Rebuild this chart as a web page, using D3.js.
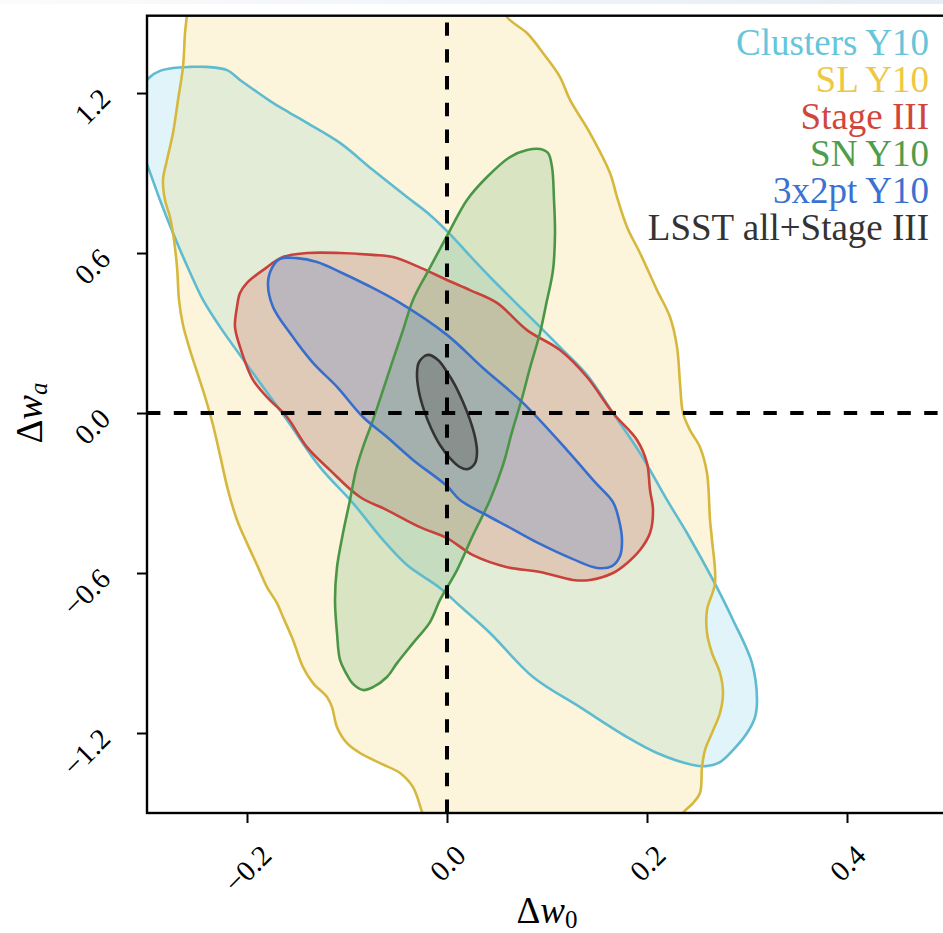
<!DOCTYPE html>
<html>
<head>
<meta charset="utf-8">
<script src="https://cdn.jsdelivr.net/npm/d3@7"></script>
<style>
  html, body { margin: 0; padding: 0; background: #ffffff; }
  svg { display: block; }
</style>
</head>
<body>
<svg id="chart" width="943" height="933"></svg>
<script>
// 68% confidence contours in the (Δw0, Δwa) plane, as [Δw0, Δwa] vertices.
const clustersY10 = [
  [-0.312, 1.174], [-0.297, 1.260], [-0.287, 1.283], [-0.274, 1.294], [-0.257, 1.298],
  [-0.240, 1.298], [-0.220, 1.286], [-0.207, 1.249], [-0.190, 1.204], [-0.174, 1.163],
  [-0.157, 1.125], [-0.140, 1.088], [-0.107, 1.013], [-0.074, 0.911], [-0.040, 0.810],
  [-0.017, 0.743], [0.003, 0.671], [0.023, 0.589], [0.043, 0.510], [0.068, 0.416],
  [0.093, 0.323], [0.116, 0.236], [0.140, 0.143], [0.166, 0.000], [0.193, -0.150],
  [0.220, -0.326], [0.240, -0.450], [0.266, -0.626], [0.286, -0.776], [0.305, -0.938],
  [0.310, -1.076], [0.308, -1.140], [0.300, -1.200], [0.286, -1.264], [0.273, -1.309],
  [0.260, -1.324], [0.246, -1.320], [0.210, -1.275], [0.180, -1.215], [0.133, -1.103],
  [0.086, -0.990], [0.043, -0.825], [0.013, -0.724], [-0.007, -0.656], [-0.040, -0.570],
  [-0.064, -0.476], [-0.094, -0.338], [-0.127, -0.203], [-0.160, -0.026], [-0.194, 0.150],
  [-0.227, 0.323], [-0.244, 0.424], [-0.259, 0.544], [-0.274, 0.675], [-0.287, 0.799],
  [-0.299, 0.923], [-0.309, 1.024]
];

const slY10 = [
  [-0.257, 1.586], [-0.097, 1.661], [0.048, 1.586],
  [0.060, 1.485], [0.080, 1.425], [0.096, 1.350], [0.113, 1.260], [0.123, 1.174],
  [0.143, 1.050], [0.163, 0.900], [0.170, 0.810], [0.180, 0.698], [0.193, 0.600],
  [0.210, 0.461], [0.223, 0.360], [0.230, 0.248], [0.233, 0.113], [0.236, 0.000],
  [0.243, -0.064], [0.253, -0.128], [0.260, -0.225], [0.263, -0.401], [0.265, -0.476],
  [0.268, -0.638], [0.260, -0.739], [0.260, -0.825], [0.265, -0.900], [0.273, -0.975],
  [0.276, -1.050], [0.273, -1.125], [0.265, -1.200], [0.258, -1.264], [0.255, -1.328],
  [0.253, -1.425], [0.246, -1.463], [0.236, -1.500], [0.228, -1.564],
  [0.103, -1.676], [-0.017, -1.583],
  [-0.025, -1.496], [-0.034, -1.403], [-0.047, -1.350], [-0.067, -1.313], [-0.087, -1.275],
  [-0.100, -1.238], [-0.110, -1.178], [-0.115, -1.103], [-0.120, -1.065], [-0.134, -1.013],
  [-0.144, -0.953], [-0.154, -0.851], [-0.164, -0.765], [-0.170, -0.713], [-0.180, -0.653],
  [-0.189, -0.578], [-0.200, -0.488], [-0.210, -0.401], [-0.219, -0.289], [-0.227, -0.158],
  [-0.234, -0.045], [-0.241, 0.049], [-0.249, 0.143], [-0.257, 0.236], [-0.264, 0.330],
  [-0.268, 0.424], [-0.270, 0.548], [-0.274, 0.675], [-0.277, 0.735], [-0.282, 0.799],
  [-0.284, 0.874], [-0.280, 0.949], [-0.274, 1.050], [-0.269, 1.174], [-0.264, 1.298],
  [-0.262, 1.425], [-0.260, 1.493]
];

const stageIII = [
  [-0.207, 0.450], [-0.200, 0.488], [-0.184, 0.536], [-0.164, 0.585], [-0.140, 0.600],
  [-0.107, 0.600], [-0.074, 0.593], [-0.054, 0.585], [-0.030, 0.551], [0.000, 0.499],
  [0.023, 0.461], [0.050, 0.413], [0.080, 0.311], [0.113, 0.236], [0.140, 0.135],
  [0.166, 0.000], [0.190, -0.101], [0.200, -0.188], [0.203, -0.289], [0.206, -0.364],
  [0.203, -0.450], [0.193, -0.514], [0.180, -0.563], [0.166, -0.600], [0.143, -0.626],
  [0.126, -0.626], [0.093, -0.596], [0.060, -0.578], [0.026, -0.533], [0.000, -0.469],
  [-0.027, -0.428], [-0.060, -0.364], [-0.087, -0.315], [-0.117, -0.214], [-0.140, -0.128],
  [-0.160, -0.015], [-0.180, 0.060], [-0.194, 0.124], [-0.207, 0.248], [-0.212, 0.323],
  [-0.210, 0.398]
];

const snY10 = [
  [0.063, 0.960], [0.080, 0.986], [0.093, 0.990], [0.101, 0.975], [0.105, 0.923],
  [0.107, 0.799], [0.108, 0.675], [0.106, 0.536], [0.099, 0.405], [0.093, 0.300],
  [0.083, 0.169], [0.075, 0.056], [0.065, -0.071], [0.056, -0.195], [0.043, -0.326],
  [0.026, -0.458], [0.010, -0.589], [-0.007, -0.701], [-0.017, -0.784], [-0.034, -0.863],
  [-0.050, -0.938], [-0.060, -0.990], [-0.074, -1.028], [-0.084, -1.039], [-0.094, -1.016],
  [-0.101, -0.975], [-0.107, -0.926], [-0.110, -0.825], [-0.112, -0.701], [-0.110, -0.578],
  [-0.104, -0.450], [-0.097, -0.326], [-0.091, -0.214], [-0.084, -0.128], [-0.074, -0.026],
  [-0.064, 0.086], [-0.054, 0.199], [-0.044, 0.311], [-0.034, 0.424], [-0.020, 0.525],
  [0.000, 0.664], [0.020, 0.799], [0.040, 0.885]
];

const threeByTwoPtY10 = [
  [-0.179, 0.488], [-0.175, 0.544], [-0.167, 0.578], [-0.150, 0.581], [-0.130, 0.566],
  [-0.107, 0.529], [-0.080, 0.480], [-0.047, 0.413], [0.000, 0.293], [0.036, 0.169],
  [0.076, 0.038], [0.120, -0.139], [0.148, -0.259], [0.166, -0.334], [0.172, -0.401],
  [0.175, -0.476], [0.173, -0.536], [0.165, -0.574], [0.150, -0.581], [0.126, -0.548],
  [0.093, -0.491], [0.060, -0.424], [0.043, -0.390], [0.013, -0.326], [0.000, -0.274],
  [-0.034, -0.176], [-0.060, -0.090], [-0.084, -0.015], [-0.110, 0.098], [-0.134, 0.188],
  [-0.157, 0.300], [-0.174, 0.398]
];

const lsstAllStageIII = [
  [-0.019, 0.218], [-0.009, 0.199], [0.000, 0.154], [0.008, 0.105], [0.016, 0.041],
  [0.023, -0.026], [0.028, -0.090], [0.030, -0.146], [0.028, -0.188], [0.021, -0.210],
  [0.013, -0.203], [0.003, -0.169], [-0.007, -0.120], [-0.016, -0.056], [-0.023, 0.011],
  [-0.028, 0.079], [-0.030, 0.143], [-0.028, 0.191]
];

const seriesLabels = ["Clusters Y10", "SL Y10", "Stage III", "SN Y10", "3x2pt Y10", "LSST all+Stage III"];
const xTickValues = [-0.2, 0.0, 0.2, 0.4];
const yTickValues = [-1.2, -0.6, 0.0, 0.6, 1.2];

(function () {
  // Appearance of each contour, in drawing order.
  const styles = [
    { data: clustersY10,     stroke: "#5fbbcf", fill: "rgb(100,200,225)", alpha: 0.2,  text: "#66c5da" },
    { data: slY10,           stroke: "#d6b83e", fill: "rgb(240,205,80)",  alpha: 0.2,  text: "#edc843" },
    { data: stageIII,        stroke: "#c8413a", fill: "rgb(212,71,60)",   alpha: 0.2,  text: "#d0463d" },
    { data: snY10,           stroke: "#4b9646", fill: "rgb(82,160,90)",   alpha: 0.2,  text: "#4f9c4a" },
    { data: threeByTwoPtY10, stroke: "#376ecd", fill: "rgb(44,108,204)",  alpha: 0.2,  text: "#3a72d2" },
    { data: lsstAllStageIII, stroke: "#333333", fill: "rgb(51,51,51)",    alpha: 0.25, text: "#333333" }
  ];

  const W = 943;
  const pL = 147, pR = 947, pT = 15.7, pB = 813;
  const serif = "'Liberation Serif', 'DejaVu Serif', serif";

  const x = d3.scaleLinear().domain([-0.3, 0.5]).range([pL, pR]);
  const y = d3.scaleLinear().domain([-1.5, 1.49]).range([pB, pT]);

  const svg = d3.select("#chart");

  // faint band along the top edge of the page
  const defs = svg.append("defs");
  const grad = defs.append("linearGradient").attr("id", "topband")
    .attr("x1", 0).attr("x2", 1).attr("y1", 0).attr("y2", 0);
  grad.append("stop").attr("offset", 0).attr("stop-color", "#fafbfc");
  grad.append("stop").attr("offset", 1).attr("stop-color", "#e7edf5");
  svg.append("rect").attr("x", 0).attr("y", 0).attr("width", W).attr("height", 4)
    .attr("fill", "url(#topband)");

  defs.append("clipPath").attr("id", "plotclip")
    .append("rect").attr("x", pL).attr("y", pT).attr("width", pR - pL).attr("height", pB - pT);

  const plot = svg.append("g").attr("clip-path", "url(#plotclip)");

  const contour = d3.line()
    .x(d => x(d[0]))
    .y(d => y(d[1]))
    .curve(d3.curveCatmullRomClosed.alpha(0.5));

  // translucent fills first, outlines on top
  styles.forEach(s => {
    plot.append("path")
      .attr("d", contour(s.data))
      .attr("fill", s.fill)
      .attr("fill-opacity", s.alpha)
      .attr("stroke", "none");
  });
  styles.forEach(s => {
    plot.append("path")
      .attr("d", contour(s.data))
      .attr("fill", "none")
      .attr("stroke", s.stroke)
      .attr("stroke-width", 2.6)
      .attr("stroke-linejoin", "round");
  });

  // reference lines at the fiducial cosmology
  plot.append("line")
    .attr("x1", x(0)).attr("x2", x(0))
    .attr("y1", y(-1.5)).attr("y2", y(1.49))
    .attr("stroke", "#000").attr("stroke-width", 4)
    .attr("stroke-dasharray", "13.4 13.4");
  plot.append("line")
    .attr("x1", x(-0.3)).attr("x2", x(0.5))
    .attr("y1", y(0)).attr("y2", y(0))
    .attr("stroke", "#000").attr("stroke-width", 4)
    .attr("stroke-dasharray", "13.4 13.4");

  // legend: coloured labels, right aligned
  const legend = svg.append("g");
  const legendBaselines = [55, 92, 129, 166, 203, 240];
  seriesLabels.forEach((label, i) => {
    legend.append("text")
      .attr("x", 929).attr("y", legendBaselines[i])
      .attr("text-anchor", "end")
      .attr("font-family", serif)
      .attr("font-size", 37)
      .attr("fill", styles[i].text)
      .text(label);
  });

  // frame
  svg.append("rect")
    .attr("x", pL).attr("y", pT)
    .attr("width", pR - pL).attr("height", pB - pT)
    .attr("fill", "none").attr("stroke", "#000").attr("stroke-width", 2.4);

  const fmt = d3.format(".1f");
  const tickFont = 29;

  // x axis
  const xAxis = svg.append("g")
    .attr("transform", `translate(0,${pB})`)
    .call(d3.axisBottom(x).tickValues(xTickValues).tickSize(10).tickFormat(fmt));
  xAxis.select(".domain").remove();
  xAxis.selectAll(".tick line").attr("stroke", "#000").attr("stroke-width", 2);
  xAxis.selectAll(".tick text").each(function () {
    const t = d3.select(this);
    t.attr("font-family", serif).attr("font-size", tickFont).attr("fill", "#000")
      .attr("text-anchor", "middle").attr("dominant-baseline", "central").attr("dy", null);
    const L = this.getComputedTextLength();
    const cy = 30 + 0.354 * (L + 0.7 * tickFont);
    t.attr("y", null).attr("transform", `translate(0,${cy}) rotate(-45)`);
  });

  // y axis
  const yAxis = svg.append("g")
    .attr("transform", `translate(${pL},0)`)
    .call(d3.axisLeft(y).tickValues(yTickValues).tickSize(10).tickFormat(fmt));
  yAxis.select(".domain").remove();
  yAxis.selectAll(".tick line").attr("stroke", "#000").attr("stroke-width", 2);
  yAxis.selectAll(".tick text")
    .attr("font-family", serif).attr("font-size", tickFont).attr("fill", "#000")
    .attr("text-anchor", "end").attr("dominant-baseline", "central")
    .attr("x", null).attr("dy", null)
    .attr("transform", "translate(-42,0) rotate(-45)");

  // axis titles
  const xTitle = svg.append("text")
    .attr("x", (pL + pR) / 2).attr("y", 923)
    .attr("text-anchor", "middle")
    .attr("font-family", serif).attr("font-size", 37).attr("fill", "#000");
  xTitle.append("tspan").text("Δ");
  xTitle.append("tspan").attr("font-style", "italic").text("w");
  xTitle.append("tspan").attr("font-size", 25).attr("dy", 5).text("0");

  const yTitle = svg.append("text")
    .attr("transform", `translate(42,${y(0)}) rotate(-90)`)
    .attr("text-anchor", "middle")
    .attr("font-family", serif).attr("font-size", 37).attr("fill", "#000");
  yTitle.append("tspan").text("Δ");
  yTitle.append("tspan").attr("font-style", "italic").text("w");
  yTitle.append("tspan").attr("font-size", 25).attr("font-style", "italic").attr("dy", 5).text("a");
})();
</script>
</body>
</html>
